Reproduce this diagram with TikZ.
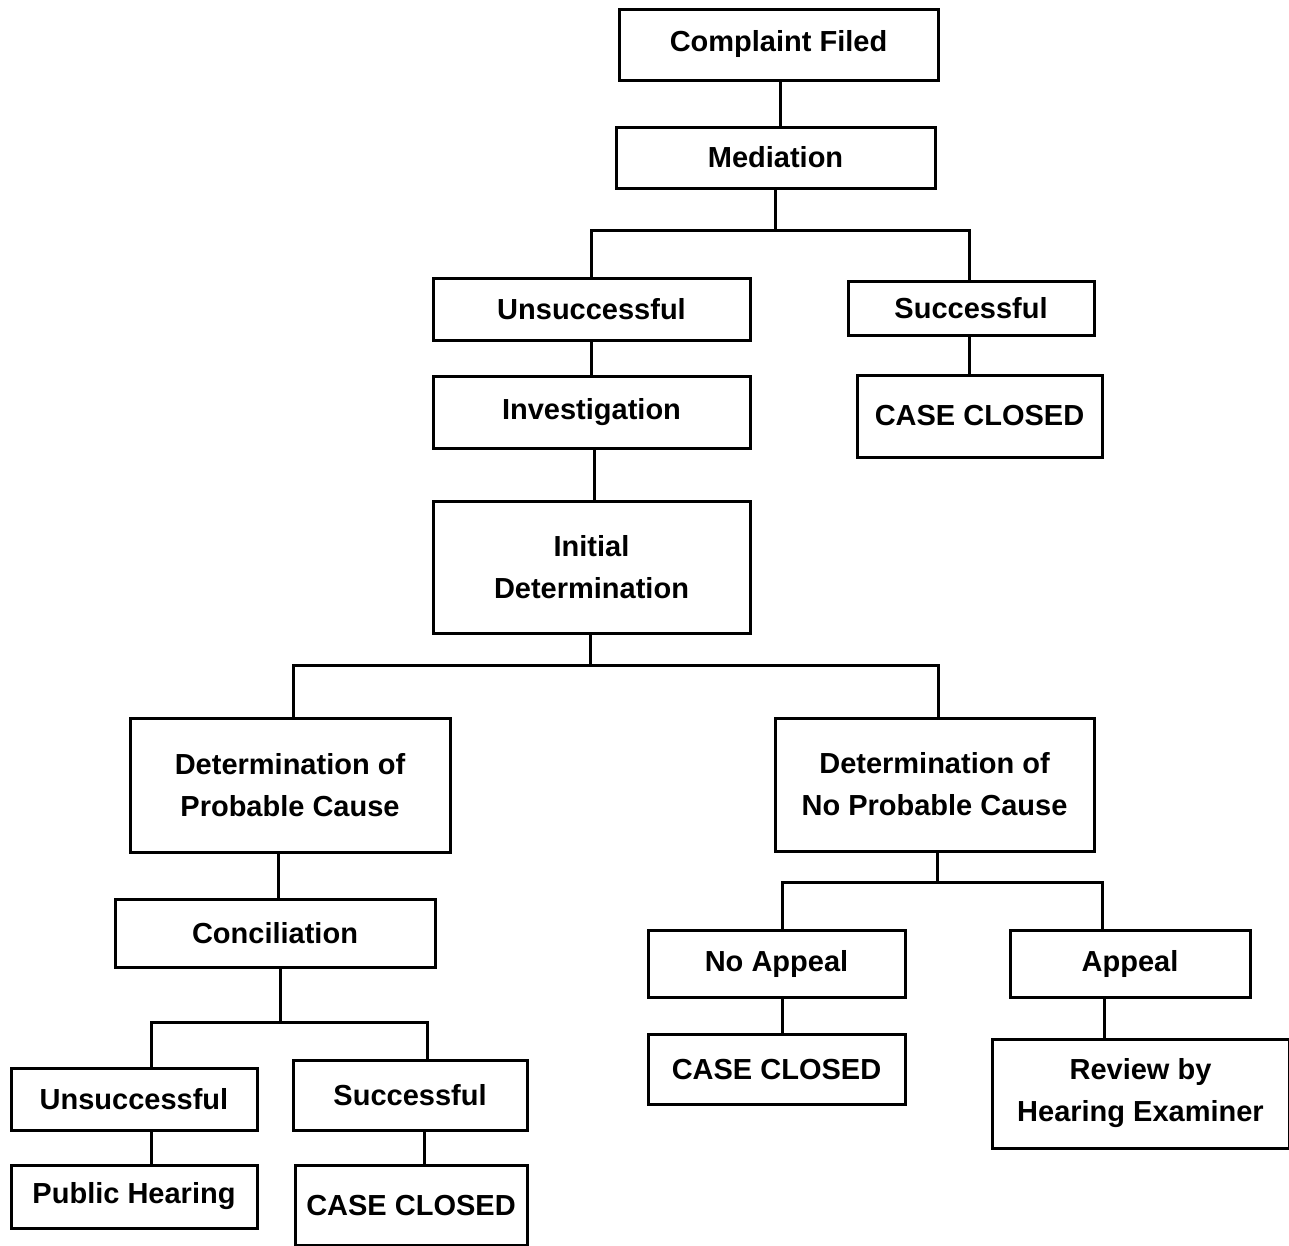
\documentclass[tikz,border=0pt]{standalone}
\usepackage{fontspec}
\setmainfont{Liberation Sans}
\begin{document}
\begin{tikzpicture}[x=1pt,y=-1pt,
  box/.style={draw=black, line width=3pt, inner sep=0pt, align=center,
    font=\fontsize{29}{42}\selectfont\bfseries},
  link/.style={draw=black, line width=3pt}]
\useasboundingbox[fill=white] (0,0) rectangle (1289,1245);
% boxes: center x, center y, width, height
\newcommand\bx[6]{\node[box, minimum width=#4pt, minimum height=#5pt] (#1) at (#2,#3) {#6};}
\bx{cf}{778.5}{44.5}{319}{71}{Complaint Filed}
\bx{med}{775.5}{157.5}{319}{61}{Mediation}
\bx{uns1}{591.5}{309}{317}{62}{Unsuccessful}
\bx{suc1}{971}{308}{246}{54}{Successful}
\bx{inv}{591.5}{412}{317}{72}{Investigation}
\bx{cc1}{979.5}{416}{245}{82}{CASE CLOSED}
\bx{init}{591.5}{567}{317}{132}{Initial\\Determination}
\bx{dpc}{290}{785}{320}{134}{Determination of\\Probable Cause}
\bx{dnpc}{934.5}{784.5}{319}{133}{Determination of\\No Probable Cause}
\bx{conc}{275}{933}{320}{68}{Conciliation}
\bx{noap}{776.5}{963.5}{257}{67}{No Appeal}
\bx{app}{1130}{963.5}{240}{67}{Appeal}
\bx{cc2}{776.5}{1069}{257}{70}{CASE CLOSED}
\bx{rev}{1140.5}{1093.5}{297}{109}{Review by\\Hearing Examiner}
\bx{uns2}{134}{1099}{246}{62}{Unsuccessful}
\bx{suc2}{410}{1095}{234}{70}{Successful}
\bx{ph}{134}{1196.5}{246}{63}{Public Hearing}
\bx{cc3}{411}{1205}{232}{80}{CASE CLOSED}
% junctions
\coordinate (j1) at (775.5,230);
\coordinate (j2) at (590,665);
\coordinate (j3) at (280,1022);
\coordinate (j4) at (937,882);
% connector attachment points
\coordinate (a1) at ([xshift=1.5pt]cf.south);
\coordinate (a2) at ([xshift=-2pt]suc1.north);
\coordinate (a3) at ([xshift=2.5pt]inv.south);
\coordinate (a4) at ([xshift=3pt]dpc.north);
\coordinate (a5) at ([xshift=3.5pt]dnpc.north);
\coordinate (a6) at ([xshift=-12pt]dpc.south);
\coordinate (a7) at ([xshift=17pt]uns2.north);
\coordinate (a8) at ([xshift=17pt]suc2.north);
\coordinate (a9) at ([xshift=17pt]uns2.south);
\coordinate (a10) at ([xshift=14pt]suc2.south);
\coordinate (a11) at ([xshift=5.5pt]noap.north);
\coordinate (a12) at ([xshift=-28pt]app.north);
\coordinate (a13) at ([xshift=5.5pt]noap.south);
\coordinate (a14) at ([xshift=-26pt]app.south);
\coordinate (a15) at ([xshift=-2pt]suc1.south);
% connectors
\draw[link] (a1) -- (a1 |- med.north);
\draw[link] (med.south) -- (j1);
\draw[link] (uns1.north) |- (j1) -| (a2);
\draw[link] (uns1.south) -- (uns1.south |- inv.north);
\draw[link] (a15) -- (a15 |- cc1.north);
\draw[link] (a3) -- (a3 |- init.north);
\draw[link] (init.south -| j2) -- (j2);
\draw[link] (a4) |- (j2) -| (a5);
\draw[link] (a6) -- (a6 |- conc.north);
\draw[link] (conc.south -| j3) -- (j3);
\draw[link] (a7) |- (j3) -| (a8);
\draw[link] (a9) -- (a9 |- ph.north);
\draw[link] (a10) -- (a10 |- cc3.north);
\draw[link] (dnpc.south -| j4) -- (j4);
\draw[link] (a11) |- (j4) -| (a12);
\draw[link] (a13) -- (a13 |- cc2.north);
\draw[link] (a14) -- (a14 |- rev.north);
\end{tikzpicture}
\end{document}
